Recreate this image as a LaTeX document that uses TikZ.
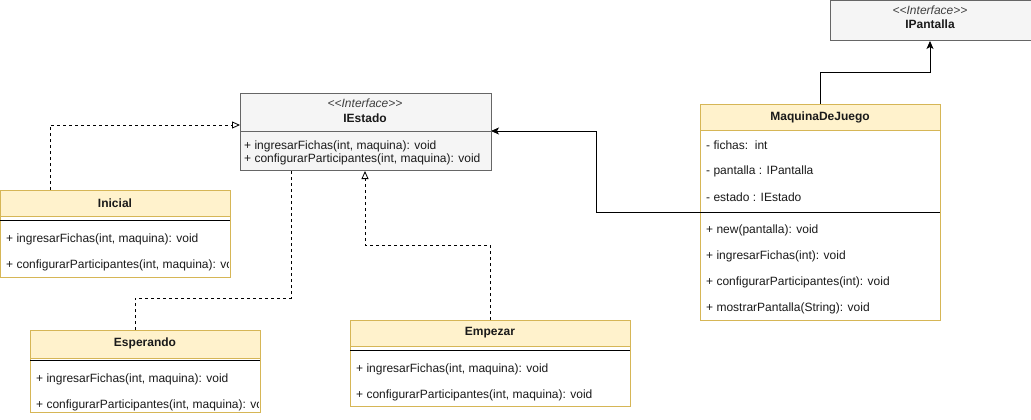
\documentclass[tikz,border=0pt]{standalone}
\usepackage{fontspec}
\setmainfont{Liberation Sans}
\usetikzlibrary{arrows.meta}
\definecolor{hdrfill}{HTML}{FFF2CC}
\definecolor{hdrdraw}{HTML}{D6B656}
\definecolor{ifill}{HTML}{F5F5F5}
\definecolor{idraw}{HTML}{666666}
\definecolor{txtc}{HTML}{1A1A1A}
\tikzset{
  x=1pt, y=-1pt,
  body/.style={draw=hdrdraw, fill=white, anchor=north west, inner sep=0pt, line width=0.8pt},
  hdr/.style={draw=hdrdraw, fill=hdrfill, anchor=north west, inner sep=0pt, line width=0.8pt},
  ibox/.style={draw=idraw, fill=ifill, anchor=north west, inner sep=0pt, line width=0.8pt},
  ttl/.style={font=\fontsize{12}{14}\selectfont\bfseries, inner sep=0pt, text=txtc},
  ster/.style={font=\fontsize{12}{14}\selectfont\itshape, inner sep=0pt, text=black!75},
  mem/.style={font=\fontsize{12}{14}\selectfont, anchor=west, inner sep=0pt, text=txtc, yshift=-1pt},
  real/.style={draw=black, line width=0.8pt, dash pattern=on 3pt off 3pt, -{Triangle[open, length=8pt, width=7pt]}},
  assoc/.style={draw=black, line width=0.8pt, -{Stealth[length=8pt, width=7pt, inset=2pt]}},
  divl/.style={draw=black, line width=1pt},
}
\newcommand{\stereo}[1]{{<}{<}#1{>}{>}}
\begin{document}
\begin{tikzpicture}
\useasboundingbox (0,0) rectangle (1031,420);
% anchor coordinates for connectors
\coordinate (ini-up) at (50,190);
\coordinate (ini-b1) at (50,125);
\coordinate (est-in) at (240,125);
\coordinate (esp-up) at (135,330);
\coordinate (esp-b1) at (135,298);
\coordinate (esp-b2) at (291,298);
\coordinate (est-esp) at (291,161);
\coordinate (emp-up) at (490,320);
\coordinate (emp-b1) at (490,245);
\coordinate (emp-b2) at (365,245);
\coordinate (est-emp) at (365,171);
\coordinate (maq-up) at (820,104);
\coordinate (maq-b1) at (820,72);
\coordinate (maq-b2) at (930,72);
\coordinate (ipa-in) at (930,41);
\coordinate (maq-div) at (700,212);
\coordinate (maq-b3) at (596,212);
\coordinate (maq-b4) at (596,131);
\coordinate (est-maq) at (491,131);
% connectors
\draw[real] (ini-up) -- (ini-b1) -- (est-in);
\draw[real] (esp-up) -- (esp-b1) -- (esp-b2) -- (est-esp);
\draw[real] (emp-up) -- (emp-b1) -- (emp-b2) -- (est-emp);
\draw[assoc] (maq-up) -- (maq-b1) -- (maq-b2) -- (ipa-in);
\draw[assoc] (maq-div) -- (maq-b3) -- (maq-b4) -- (est-maq);

% IPantalla
\node[ibox, minimum width=201pt, minimum height=40pt] (ipantalla) at (830,0) {};
\node[ster] (ipa-st) at (930,10) {\stereo{Interface}};
\node[ttl] (ipa-t) at (930,24) {IPantalla};

% IEstado
\node[ibox, minimum width=251pt, minimum height=77pt] (iestado) at (240,93) {};
\draw[draw=idraw, line width=0.8pt] (iestado.west |- est-maq) -- (est-maq);
\node[ster] (ies-st) at (365,103) {\stereo{Interface}};
\node[ttl] (ies-t) at (365,118) {IEstado};
\node[mem] (ies-m1) at (244,145) {+ ingresarFichas(int, maquina): void};
\node[mem] (ies-m2) at (244,158) {+ configurarParticipantes(int, maquina): void};

% Inicial
\node[body, minimum width=230pt, minimum height=87pt] (inicial) at (0,190) {};
\node[hdr, minimum width=230pt, minimum height=26pt] (ini-h) at (0,190) {};
\node[ttl] (ini-t) at (115,203) {Inicial};
\draw[divl] (0,220) -- (230,220);
\begin{scope}
\clip (0,225) rectangle (228,277);
\node[mem] (ini-m1) at (6,238) {+ ingresarFichas(int, maquina): void};
\node[mem] (ini-m2) at (6,264) {+ configurarParticipantes(int, maquina): void};
\end{scope}

% Esperando
\node[body, minimum width=230pt, minimum height=82pt] (esperando) at (30,330) {};
\node[hdr, minimum width=230pt, minimum height=28pt] (esp-h) at (30,330) {};
\node[ttl] (esp-t) at (145,343) {Esperando};
\draw[divl] (30,360) -- (260,360);
\begin{scope}
\clip (30,365) rectangle (258,411);
\node[mem] (esp-m1) at (36,378) {+ ingresarFichas(int, maquina): void};
\node[mem] (esp-m2) at (36,404) {+ configurarParticipantes(int, maquina): void};
\end{scope}

% Empezar
\node[body, minimum width=280pt, minimum height=86pt] (empezar) at (350,320) {};
\node[hdr, minimum width=280pt, minimum height=26pt] (emp-h) at (350,320) {};
\node[ttl] (emp-t) at (490,333) {Empezar};
\draw[divl] (350,350) -- (630,350);
\node[mem] (emp-m1) at (356,368) {+ ingresarFichas(int, maquina): void};
\node[mem] (emp-m2) at (356,394) {+ configurarParticipantes(int, maquina): void};

% MaquinaDeJuego
\node[body, minimum width=240pt, minimum height=216pt] (maquina) at (700,104) {};
\node[hdr, minimum width=240pt, minimum height=26pt] (maq-h) at (700,104) {};
\node[ttl] (maq-t) at (820,117) {MaquinaDeJuego};
\node[mem] (maq-a1) at (706,144) {- fichas:\ \ int};
\node[mem] (maq-a2) at (706,170) {- pantalla : IPantalla};
\node[mem] (maq-a3) at (706,196) {- estado : IEstado};
\draw[divl] (maq-div) -- (940,212);
\node[mem] (maq-m1) at (706,229) {+ new(pantalla): void};
\node[mem] (maq-m2) at (706,255) {+ ingresarFichas(int): void};
\node[mem] (maq-m3) at (706,281) {+ configurarParticipantes(int): void};
\node[mem] (maq-m4) at (706,307) {+ mostrarPantalla(String): void};
\end{tikzpicture}
\end{document}
